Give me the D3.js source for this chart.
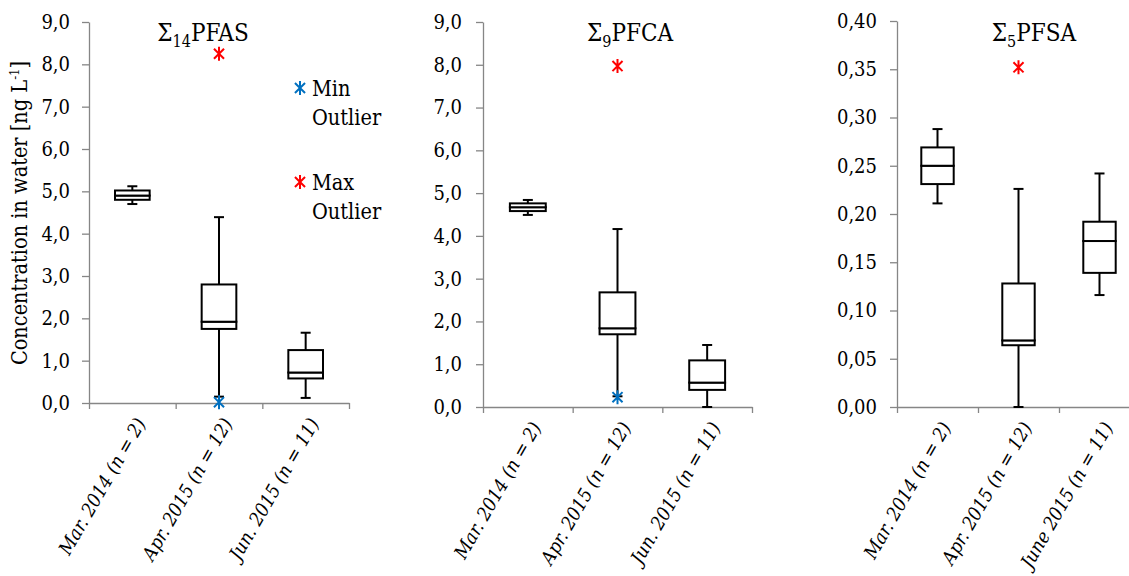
<!DOCTYPE html>
<html>
<head>
<meta charset="utf-8">
<script src="https://cdn.jsdelivr.net/npm/d3@7"></script>
<style>
  html, body { margin: 0; padding: 0; background: #fff; }
  svg { display: block; }
  text { font-family: "DejaVu Serif Condensed", "DejaVu Serif", serif; fill: #000; }
</style>
</head>
<body>
<svg id="chart" width="1129" height="576"></svg>
<script>
// ---------- data ----------
const categoriesA = ["Mar. 2014 (n = 2)", "Apr. 2015 (n = 12)", "Jun. 2015 (n = 11)"];
const categoriesC = ["Mar. 2014 (n = 2)", "Apr. 2015 (n = 12)", "June 2015 (n = 11)"];

// Σ14PFAS
const pfasMin    = [4.70, 0.15, 0.12];
const pfasQ1     = [4.80, 1.75, 0.58];
const pfasMedian = [4.90, 1.92, 0.72];
const pfasQ3     = [5.02, 2.80, 1.25];
const pfasMax    = [5.12, 4.39, 1.66];
const pfasMaxOutlier = [null, 8.25, null];
const pfasMinOutlier = [null, 0.02, null];

// Σ9PFCA
const pfcaMin    = [4.49, 0.25, 0.00];
const pfcaQ1     = [4.58, 1.70, 0.40];
const pfcaMedian = [4.67, 1.84, 0.57];
const pfcaQ3     = [4.76, 2.68, 1.09];
const pfcaMax    = [4.84, 4.16, 1.45];
const pfcaMaxOutlier = [null, 7.97, null];
const pfcaMinOutlier = [null, 0.23, null];

// Σ5PFSA
const pfsaMin    = [0.211, 0.000, 0.116];
const pfsaQ1     = [0.231, 0.064, 0.139];
const pfsaMedian = [0.250, 0.069, 0.172];
const pfsaQ3     = [0.269, 0.128, 0.192];
const pfsaMax    = [0.288, 0.226, 0.242];
const pfsaMaxOutlier = [null, 0.352, null];
const pfsaMinOutlier = [null, null, null];

// tick values
const yTicksWide  = [0, 1, 2, 3, 4, 5, 6, 7, 8, 9];
const yTicksSmall = [0, 0.05, 0.10, 0.15, 0.20, 0.25, 0.30, 0.35, 0.40];

const titleSub = [["Σ", "14", "PFAS"], ["Σ", "9", "PFCA"], ["Σ", "5", "PFSA"]];
const yAxisTitle = "Concentration in water [ng L";
const legendLabels = [["Min", "Outlier"], ["Max", "Outlier"]];

// ---------- drawing ----------
const svg = d3.select("#chart");
const AXIS_GRAY = "#868686";
const RED = "#ff0000", BLUE = "#0070c0";

function starPath(s) {
  const h = s / 2, d = s * 0.42;
  return `M0,${-h - 1}L0,${h + 1}M${-d},${-d}L${d},${d}M${-d},${d}L${d},${-d}`;
}

function panel(cfg) {
  const g = svg.append("g");
  const y = d3.scaleLinear().domain(cfg.domain).range([cfg.bottom, cfg.top]);
  const x = d3.scaleBand().domain(cfg.cats).range([cfg.left, cfg.right]).padding(0);
  const xb = d3.scaleLinear().domain([0, cfg.cats.length]).range([cfg.left, cfg.right]);
  const fmt = v => d3.format(cfg.fmt)(v).replace(".", ",");

  // y axis
  const ya = g.append("g").attr("transform", `translate(${cfg.left},0)`)
    .call(d3.axisLeft(y).tickValues(cfg.ticks).tickFormat(fmt).tickSize(cfg.tick).tickSizeOuter(0).tickPadding(cfg.pad));
  ya.select(".domain").attr("stroke", AXIS_GRAY).attr("stroke-width", 1.3);
  ya.selectAll(".tick line").attr("stroke", AXIS_GRAY).attr("stroke-width", 1.3);
  ya.selectAll(".tick text").style("font-size", "20px").attr("fill", "#000")
    .style("font-family", '"DejaVu Serif Condensed", "DejaVu Serif", serif');

  // x axis (boundary ticks)
  const xa = g.append("g").attr("transform", `translate(0,${cfg.bottom})`)
    .call(d3.axisBottom(xb).tickValues(d3.range(cfg.cats.length + 1)).tickFormat("").tickSize(6).tickSizeOuter(0));
  xa.select(".domain").attr("stroke", AXIS_GRAY).attr("stroke-width", 1.3);
  xa.selectAll(".tick line").attr("stroke", AXIS_GRAY).attr("stroke-width", 1.3);

  // x labels
  g.selectAll("text.xl").data(cfg.cats).enter().append("text")
    .attr("class", "xl")
    .attr("transform", d => `translate(${x(d) + x.bandwidth() / 2 + 14},${cfg.bottom + 20}) rotate(-60)`)
    .attr("text-anchor", "end")
    .style("font-size", "19px").style("font-style", "italic")
    .text(d => d);

  const bw = x.bandwidth() * 0.4;
  const cap = 10;
  const idx = d3.range(cfg.cats.length);
  const cx = i => x(cfg.cats[i]) + x.bandwidth() / 2;

  // whiskers
  g.selectAll("line.wu").data(idx).enter().append("line")
    .attr("x1", cx).attr("x2", cx)
    .attr("y1", i => y(cfg.q3[i])).attr("y2", i => y(cfg.max[i]))
    .attr("stroke", "#000").attr("stroke-width", 2);
  g.selectAll("line.wl").data(idx).enter().append("line")
    .attr("x1", cx).attr("x2", cx)
    .attr("y1", i => y(cfg.q1[i])).attr("y2", i => y(cfg.min[i]))
    .attr("stroke", "#000").attr("stroke-width", 2);
  g.selectAll("line.cu").data(idx).enter().append("line")
    .attr("x1", i => cx(i) - cap / 2).attr("x2", i => cx(i) + cap / 2)
    .attr("y1", i => y(cfg.max[i])).attr("y2", i => y(cfg.max[i]))
    .attr("stroke", "#000").attr("stroke-width", 2);
  g.selectAll("line.cl").data(idx).enter().append("line")
    .attr("x1", i => cx(i) - cap / 2).attr("x2", i => cx(i) + cap / 2)
    .attr("y1", i => y(cfg.min[i])).attr("y2", i => y(cfg.min[i]))
    .attr("stroke", "#000").attr("stroke-width", 2);

  // boxes (lower and upper halves)
  g.selectAll("rect.bl").data(idx).enter().append("rect")
    .attr("x", i => cx(i) - bw / 2).attr("width", bw)
    .attr("y", i => y(cfg.med[i])).attr("height", i => y(cfg.q1[i]) - y(cfg.med[i]))
    .attr("fill", "#fff").attr("stroke", "#000").attr("stroke-width", 2);
  g.selectAll("rect.bu").data(idx).enter().append("rect")
    .attr("x", i => cx(i) - bw / 2).attr("width", bw)
    .attr("y", i => y(cfg.q3[i])).attr("height", i => y(cfg.med[i]) - y(cfg.q3[i]))
    .attr("fill", "#fff").attr("stroke", "#000").attr("stroke-width", 2);

  // outliers
  const pts = [];
  idx.forEach(i => {
    if (cfg.maxOut[i] != null) pts.push({ i, v: cfg.maxOut[i], c: RED });
    if (cfg.minOut[i] != null) pts.push({ i, v: cfg.minOut[i], c: BLUE });
  });
  g.selectAll("path.o").data(pts).enter().append("path")
    .attr("transform", d => `translate(${cx(d.i)},${y(d.v)})`)
    .attr("d", starPath(12)).attr("fill", "none").attr("stroke", d => d.c).attr("stroke-width", 2);

  // title
  const t = g.append("text").attr("x", cfg.titleX).attr("y", 41)
    .attr("text-anchor", "middle").style("font-size", "24px");
  t.append("tspan").text(cfg.title[0]);
  t.append("tspan").attr("dy", 6).style("font-size", "16px").text(cfg.title[1]);
  t.append("tspan").attr("dy", -6).text(cfg.title[2]);
  return { g, x, y, cx };
}

panel({
  cats: categoriesA, left: 89, right: 349, top: 22, bottom: 403, domain: [0, 9],
  ticks: yTicksWide, fmt: ".1f", tick: 7, pad: 12,
  min: pfasMin, q1: pfasQ1, med: pfasMedian, q3: pfasQ3, max: pfasMax,
  maxOut: pfasMaxOutlier, minOut: pfasMinOutlier, title: titleSub[0], titleX: 203
});
panel({
  cats: categoriesA, left: 483, right: 752, top: 22, bottom: 407, domain: [0, 9],
  ticks: yTicksWide, fmt: ".1f", tick: 7, pad: 14,
  min: pfcaMin, q1: pfcaQ1, med: pfcaMedian, q3: pfcaQ3, max: pfcaMax,
  maxOut: pfcaMaxOutlier, minOut: pfcaMinOutlier, title: titleSub[1], titleX: 630
});
panel({
  cats: categoriesC, left: 897, right: 1140, top: 21, bottom: 407, domain: [0, 0.4],
  ticks: yTicksSmall, fmt: ".2f", tick: 7, pad: 13,
  min: pfsaMin, q1: pfsaQ1, med: pfsaMedian, q3: pfsaQ3, max: pfsaMax,
  maxOut: pfsaMaxOutlier, minOut: pfsaMinOutlier, title: titleSub[2], titleX: 1034
});

// y axis title
const yt = svg.append("text").attr("transform", "translate(27,213) rotate(-90)")
  .attr("text-anchor", "middle").style("font-size", "21.5px");
yt.append("tspan").text(yAxisTitle);
yt.append("tspan").attr("dy", -8).style("font-size", "13px").text("-1");
yt.append("tspan").attr("dy", 8).text("]");

// legend
const legend = svg.append("g");
const legendItems = [{ c: BLUE, y: 88, lab: legendLabels[0] }, { c: RED, y: 182, lab: legendLabels[1] }];
legend.selectAll("path").data(legendItems).enter().append("path")
  .attr("transform", d => `translate(300,${d.y})`)
  .attr("d", starPath(12)).attr("fill", "none").attr("stroke", d => d.c).attr("stroke-width", 2);
legend.selectAll("text.l1").data(legendItems).enter().append("text")
  .attr("x", 312).attr("y", d => d.y + 8).style("font-size", "21.5px").text(d => d.lab[0]);
legend.selectAll("text.l2").data(legendItems).enter().append("text")
  .attr("x", 312).attr("y", d => d.y + 37).style("font-size", "21.5px").text(d => d.lab[1]);
</script>
</body>
</html>
